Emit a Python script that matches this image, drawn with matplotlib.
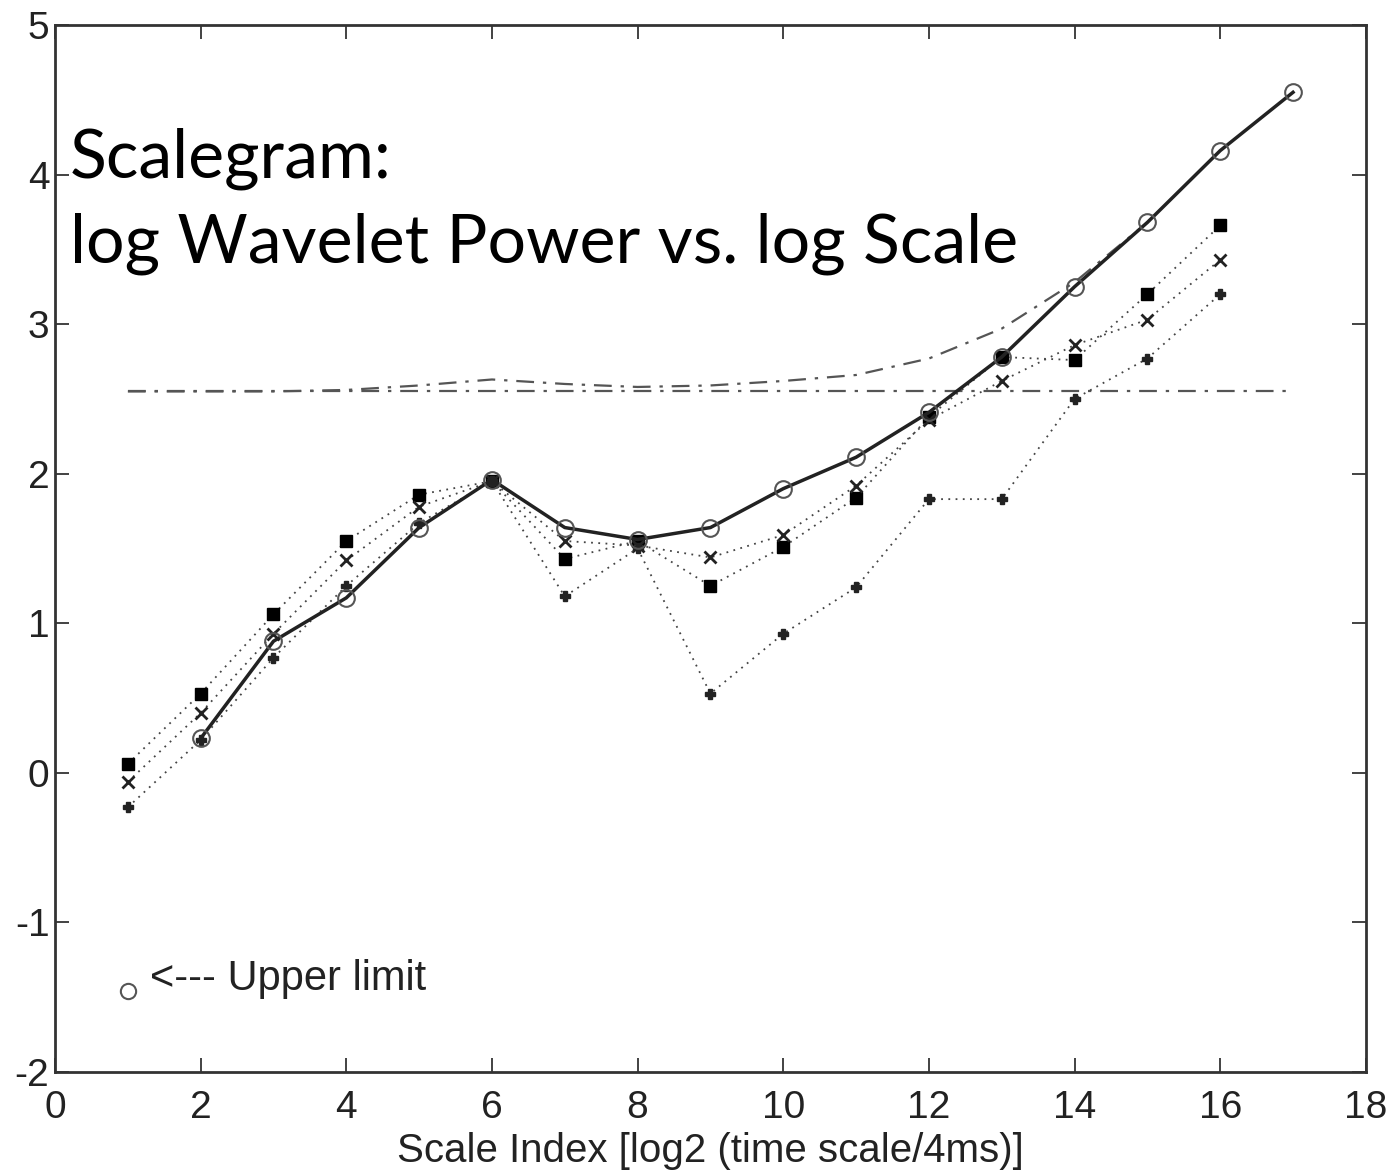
import numpy as np
import matplotlib.pyplot as plt

# scale index
x_upper = [2, 3, 4, 5, 6, 7, 8, 9, 10, 11, 12, 13, 14, 15, 16, 17]
upper = [0.23, 0.88, 1.17, 1.64, 1.96, 1.64, 1.56, 1.64, 1.90, 2.11, 2.41, 2.78, 3.25, 3.68, 4.16, 4.55]

x_series = [1, 2, 3, 4, 5, 6, 7, 8, 9, 10, 11, 12, 13, 14, 15, 16]
sq_vals = [0.06, 0.53, 1.06, 1.55, 1.86, 1.95, 1.43, 1.55, 1.25, 1.51, 1.84, 2.38, 2.78, 2.76, 3.20, 3.66]
x_vals = [-0.06, 0.40, 0.93, 1.42, 1.78, 1.95, 1.55, 1.52, 1.44, 1.59, 1.92, 2.36, 2.62, 2.86, 3.03, 3.43]
plus_vals = [-0.23, 0.22, 0.77, 1.25, 1.67, 1.95, 1.18, 1.50, 0.53, 0.93, 1.24, 1.83, 1.83, 2.50, 2.77, 3.20]

# significance levels (dash-dot)
x_flat = [1, 17]
flat = [2.55, 2.55]
x_conf = [1, 2, 3, 4, 5, 6, 7, 8, 9, 10, 11, 12, 13, 14, 15]
conf = [2.55, 2.55, 2.55, 2.56, 2.59, 2.63, 2.60, 2.58, 2.59, 2.62, 2.66, 2.77, 2.97, 3.28, 3.68]

plt.rcParams['font.family'] = ['Liberation Sans', 'DejaVu Sans']
plt.rcParams['axes.unicode_minus'] = False

fig = plt.figure(figsize=(13.93, 11.74), dpi=100)
ax = fig.add_axes([0.0395, 0.0869, 0.941, 0.8918])

ax.plot(x_flat, flat, color='#555555', lw=1.6, ls=(0, (8, 4, 1.5, 4)))
ax.plot(x_conf, conf, color='#555555', lw=1.6, ls=(0, (8, 4, 1.5, 4)))

dot = (0, (1, 3))
ax.plot(x_series, sq_vals, color='#444444', lw=1.3, ls=dot, marker='s',
        ms=8, mfc='black', mec='black')
ax.plot(x_series, x_vals, color='#444444', lw=1.3, ls=dot, marker='x',
        ms=8, mew=2, mec='#222222')
ax.plot(x_series, plus_vals, color='#444444', lw=1.3, ls=dot, marker='P',
        ms=7, mfc='#222222', mec='#222222')
ax.plot(x_upper, upper, color='#222222', lw=2.5, marker='o', ms=12,
        mfc='none', mec='#555555', mew=1.5)

# legend note
ax.plot([1], [-1.46], marker='o', ms=11, mfc='none', mec='#555555', mew=1.5)
ax.text(1.3, -1.38, '<--- Upper limit', fontsize=30, va='center', ha='left',
        color='#222222')

ax.set_xlim(0, 18)
ax.set_ylim(-2, 5)
ax.set_xticks(range(0, 19, 2))
ax.set_yticks(range(-2, 6))
ax.tick_params(direction='in', length=10, width=1.2, top=True, right=True,
               labelsize=28, colors='#222222')
ax.tick_params(axis='x', pad=13)
ax.tick_params(axis='y', pad=4)
for s in ax.spines.values():
    s.set_linewidth(2)
    s.set_color('#333333')
ax.set_xlabel('Scale Index [log2 (time scale/4ms)]', fontsize=29, labelpad=4,
              color='#222222')

title_lines = ['Scalegram:', 'log Wavelet Power vs. log Scale']
fig.text(0.05, 1 - 178 / 1174, title_lines[0], fontsize=49,
         family=['Lato', 'DejaVu Sans'], va='baseline', ha='left')
fig.text(0.05, 1 - 262 / 1174, title_lines[1], fontsize=49,
         family=['Lato', 'DejaVu Sans'], va='baseline', ha='left')

fig.savefig('out.png', dpi=100)
